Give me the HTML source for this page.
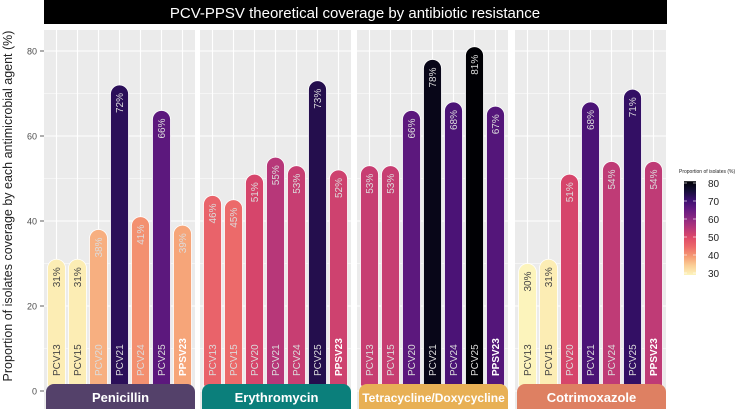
<!DOCTYPE html>
<html><head><meta charset="utf-8"><style>
body{margin:0;background:#fff;font-family:"Liberation Sans",sans-serif}
svg{display:block}
</style></head><body>
<svg id="chart" width="738" height="409" xmlns="http://www.w3.org/2000/svg"></svg>
<script>
const antibiotics = ["Penicillin","Erythromycin","Tetracycline/Doxycycline","Cotrimoxazole"];
const vaccines = ["PCV13","PCV15","PCV20","PCV21","PCV24","PCV25","PPSV23"];
const penicillin = [31,31,38,72,41,66,39];
const erythromycin = [46,45,51,55,53,73,52];
const tetracycline = [53,53,66,78,68,81,67];
const cotrimoxazole = [30,31,51,68,54,71,54];
const yTicks = [0,20,40,60,80];
const legendTicks = [30,40,50,60,70,80];
const stripColors = ["#54416a","#0b7f7b","#e8b055","#de8062"];

const series = [penicillin, erythromycin, tetracycline, cotrimoxazole];
const NS = "http://www.w3.org/2000/svg";
const svg = document.getElementById("chart");
function el(tag, attrs, parent){const e=document.createElementNS(NS,tag);for(const k in attrs)e.setAttribute(k,attrs[k]);(parent||svg).appendChild(e);return e;}
const y = v => 391 - v*4.25;
const panelX = [44,200,357,515];
const panelW = 151;
const bx = (p,i) => panelX[p] + 12.5 + i*21;
const magma = ["#000004","#140e36","#3b0f70","#641a80","#8c2981","#b73779","#de4968","#ec6a6a","#f59a72","#fbcf96","#fcf4bc"];
function hex(h){return [1,3,5].map(i=>parseInt(h.substr(i,2),16));}
function color(v){let t=1-(v-30)/50;t=Math.max(0,Math.min(1,t));const f=t*10,i=Math.min(9,Math.floor(f)),r=f-i;const a=hex(magma[i]),b=hex(magma[i+1]);return "rgb("+a.map((c,k)=>Math.round(c+(b[k]-c)*r)).join(",")+")";}

// title
const tb=el("rect",{x:44,y:0,width:623,height:24,fill:"#000"});


const tt=el("text",{x:355,y:18,"text-anchor":"middle","font-size":15,fill:"#fff"});
tt.textContent="PCV-PPSV theoretical coverage by antibiotic resistance";



// y axis title
const yt=el("text",{transform:"translate(12,206) rotate(-90)","text-anchor":"middle","font-size":12.5,fill:"#222"});
yt.textContent="Proportion of isolates  coverage by each antimicrobial agent (%)";



yTicks.forEach(t=>{
  const lb=el("text",{x:37,y:y(t)+3.5,"text-anchor":"end","font-size":9,fill:"#4d4d4d"});
  lb.textContent=t;
  
  
  el("line",{x1:40,x2:44,y1:y(t),y2:y(t),stroke:"#333","stroke-width":0.8});
});

series.forEach((vals,p)=>{
  const g=el("g",{});
  
  
  el("rect",{x:panelX[p],y:30,width:panelW,height:379,fill:"#ebebeb"},g);
  for(let v=10;v<=80;v+=20) el("line",{x1:panelX[p],x2:panelX[p]+panelW,y1:y(v),y2:y(v),stroke:"#fff","stroke-width":0.5},g);
  yTicks.forEach(t=>el("line",{x1:panelX[p],x2:panelX[p]+panelW,y1:y(t),y2:y(t),stroke:"#fff","stroke-width":1.1},g));
  vaccines.forEach((vc,i)=>el("line",{x1:bx(p,i),x2:bx(p,i),y1:30,y2:409,stroke:"#fff","stroke-width":1.1},g));
  vals.forEach((v,i)=>{
    const cx=bx(p,i),top=y(v),w=18,r=9,bot=386;
    const c=color(v);
    const bar=el("path",{d:`M${cx-w/2},${bot} L${cx-w/2},${top+r} A${r},${r} 0 0 1 ${cx+w/2},${top+r} L${cx+w/2},${bot} Z`,fill:c,stroke:"#fff","stroke-width":0.8},g);
    
    
    const light=v<36;
    const tc=light?"#444":"#dcdcdc";
    const pt=el("text",{transform:`translate(${cx+3.5},${top+8}) rotate(-90)`,"text-anchor":"end","font-size":10,fill:tc},g);
    pt.textContent=v+"%";
    
    
    const nt=el("text",{transform:`translate(${cx+3.5},${376}) rotate(-90)`,"text-anchor":"start","font-size":10,fill:vaccines[i]==="PPSV23"?"#fff":tc,"font-weight":vaccines[i]==="PPSV23"?"bold":"normal"},g);
    nt.textContent=vaccines[i];
    
    
  });
  const s=el("path",{d:`M${panelX[p]+2},409 L${panelX[p]+2},${392} A8,8 0 0 1 ${panelX[p]+10},384 L${panelX[p]+panelW-8},384 A8,8 0 0 1 ${panelX[p]+panelW},392 L${panelX[p]+panelW},409 Z`,fill:stripColors[p]},g);
  
  
  const st=el("text",{x:panelX[p]+panelW/2+1,y:402,"text-anchor":"middle","font-size":antibiotics[p].length>15?12:13,"font-weight":"bold",fill:"#fff"},g);
  st.textContent=antibiotics[p];
  
  
});

// legend
const lg=el("g",{});


const lt=el("text",{x:679,y:173,"font-size":5,fill:"#222"},lg);
lt.textContent="Proportion of isolates (%)";
const defs=el("defs",{},lg);
const grad=el("linearGradient",{id:"mg",x1:0,y1:1,x2:0,y2:0},defs);
for(let k=0;k<=10;k++) el("stop",{offset:k/10,"stop-color":color(30+k*5)},grad);
const ly=v=>273-(v-30)*(273-183)/50;
el("rect",{x:684,y:ly(81),width:12,height:ly(30)-ly(81)+2,fill:"url(#mg)"},lg);
legendTicks.forEach(t=>{
  el("line",{x1:684,x2:687,y1:ly(t),y2:ly(t),stroke:"#fff","stroke-width":0.6},lg);
  el("line",{x1:693,x2:696,y1:ly(t),y2:ly(t),stroke:"#fff","stroke-width":0.6},lg);
  const tx=el("text",{x:708,y:ly(t)+4,"font-size":10,fill:"#222"},lg);
  tx.textContent=t;
});
</script>
</body></html>
